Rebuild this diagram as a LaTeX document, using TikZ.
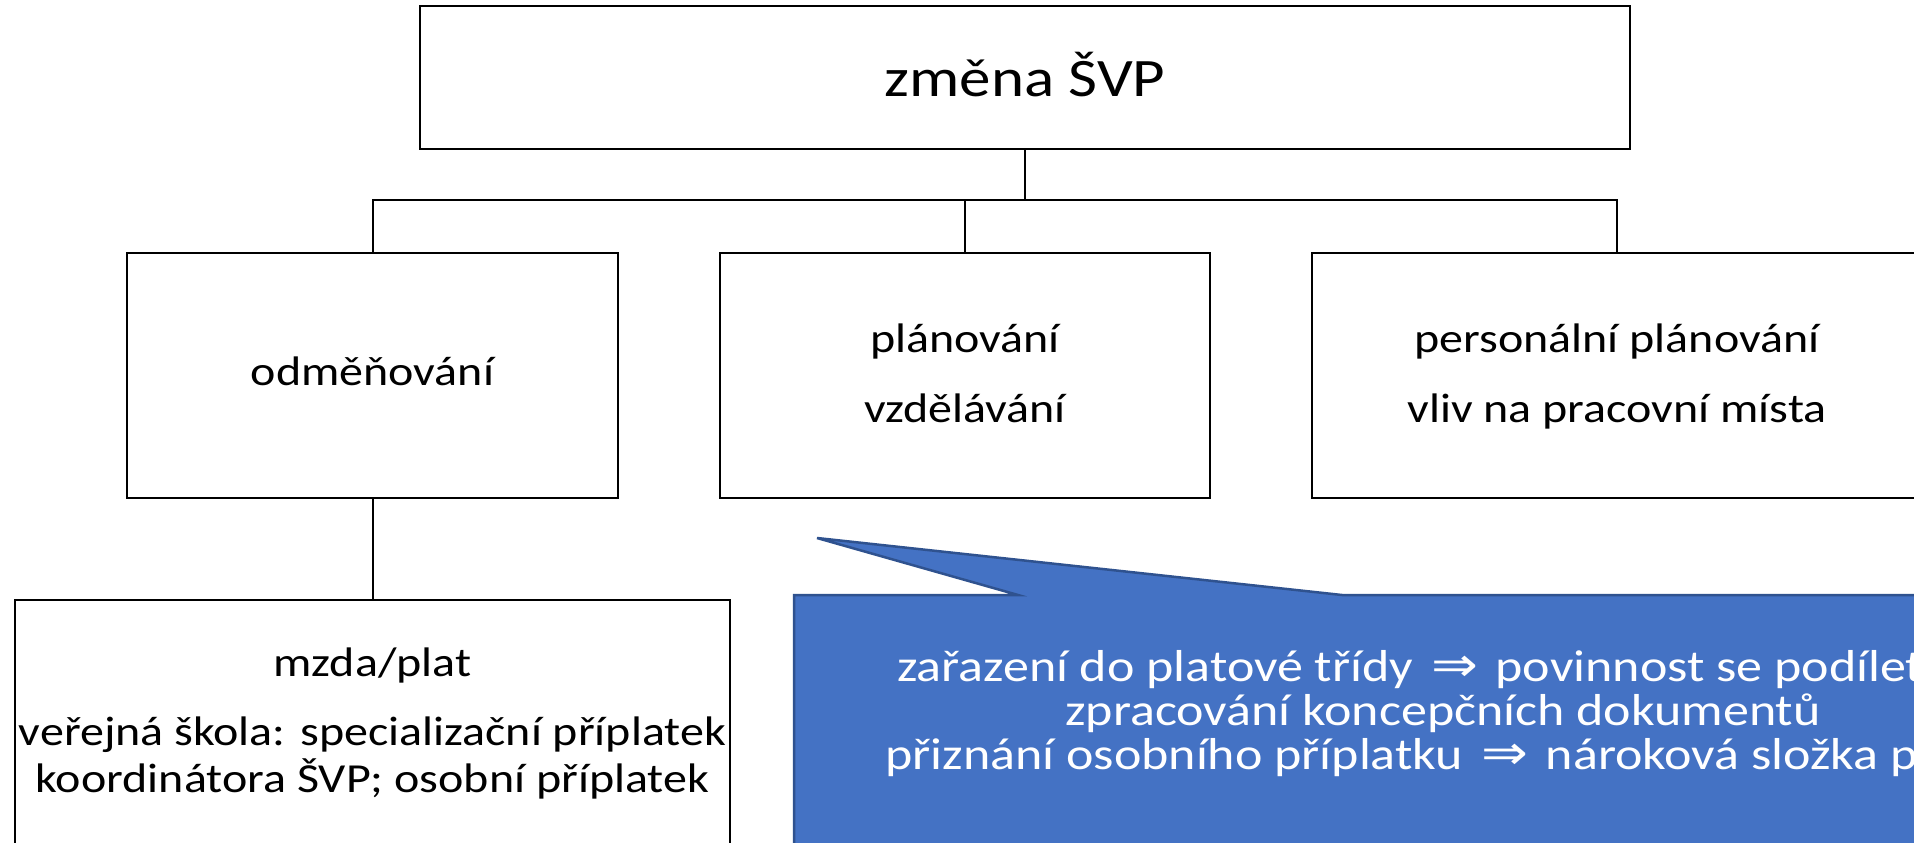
\documentclass[tikz,border=0pt]{standalone}
\usepackage{fontspec}
\setmainfont{Carlito}
\newfontfamily\symf{DejaVu Sans}
\definecolor{calloutblue}{HTML}{4472C4}
\definecolor{calloutedge}{HTML}{2F528F}
\tikzset{
  box/.style={draw=black, line width=2.6pt, fill=white, inner sep=0pt},
  conn/.style={draw=black, line width=2pt},
  txtbig/.style={inner sep=0pt, font=\fontsize{63}{75}\selectfont},
  txtmid/.style={inner sep=0pt, font=\fontsize{48}{58}\selectfont},
  txtcall/.style={inner sep=0pt, text=white, font=\fontsize{52}{62}\selectfont},
}
\newcommand{\dimp}{\hspace{6pt}{\symf\fontsize{56}{60}\selectfont ⇒}\hspace{6pt}}
\newcommand{\vsq}[1]{\scalebox{1}[0.86]{#1}}
\begin{document}
\begin{tikzpicture}[x=1pt,y=-1pt]
\path[use as bounding box] (0,0) rectangle (1914,843);
\clip (0,0) rectangle (1914,843);
\fill[white] (0,0) rectangle (1914,843);

% boxes
\node[box, minimum width=1210pt, minimum height=143pt] (top) at (1025,77.5) {};
\node[box, minimum width=491pt, minimum height=245pt] (odm) at (372.5,375.5) {};
\node[box, minimum width=490pt, minimum height=245pt] (plan) at (965,375.5) {};
\node[box, minimum width=610pt, minimum height=245pt] (pers) at (1617,375.5) {};
\node[box, minimum width=715pt, minimum height=246pt] (mzda) at (372.5,723) {};

% connectors
\coordinate (bus) at (0,200);
\draw[conn] (top.south) -- (top.south |- bus);
\draw[conn] (odm.north) -- (odm.north |- bus) -- (pers.north |- bus) -- (pers.north);
\draw[conn] (plan.north) -- (plan.north |- bus);
\draw[conn] (odm.south) -- (mzda.north);

% callout
\coordinate (tip) at (817,538);
\draw[fill=calloutblue, draw=calloutedge, line width=2.5pt, line join=miter]
  (794,595) -- (1018,595) -- (tip) -- (1342,595) -- (2090,595) -- (2090,900) -- (794,900) -- cycle;

% texts
\node[txtbig, anchor=base] (ttop) at (1025,96) {\vsq{změna ŠVP}};
\node[txtmid, anchor=base] (todm) at (372.5,385) {\vsq{odměňování}};
\node[txtmid, anchor=base] (tplan1) at (965,352) {\vsq{plánování}};
\node[txtmid, anchor=base] (tplan2) at (965,422) {\vsq{vzdělávání}};
\node[txtmid, anchor=base] (tpers1) at (1617,352) {\vsq{personální plánování}};
\node[txtmid, anchor=base] (tpers2) at (1617,422) {\vsq{vliv na pracovní místa}};
\node[txtmid, anchor=base] (tmzda1) at (372.5,676) {\vsq{mzda/plat}};
\node[txtmid, anchor=base] (tmzda2) at (372.5,745) {\vsq{veřejná škola: specializační příplatek}};
\node[txtmid, anchor=base] (tmzda3) at (372.5,792) {\vsq{koordinátora ŠVP; osobní příplatek}};
\node[txtcall, anchor=base west] (tc1) at (897,681) {\vsq{zařazení do platové třídy \dimp{} povinnost se podílet}};
\node[txtcall, anchor=base] (tc2) at (1443,725) {\vsq{zpracování koncepčních dokumentů}};
\node[txtcall, anchor=base west] (tc3) at (885,769) {\vsq{přiznání osobního příplatku \dimp{} nároková složka platu}};
\end{tikzpicture}
\end{document}
